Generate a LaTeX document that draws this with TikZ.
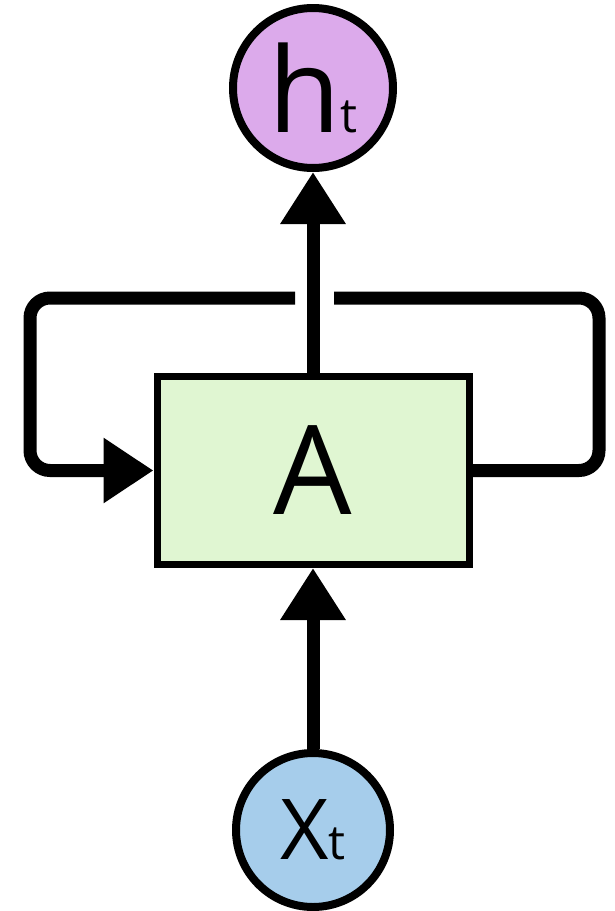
\documentclass[tikz,border=0pt]{standalone}
\usepackage{fontspec}
\setmainfont{Open Sans}
\usepackage{tikz}
\usetikzlibrary{arrows.meta}
\definecolor{hpurple}{HTML}{DCAAEB}
\definecolor{xblue}{HTML}{A6CDEB}
\definecolor{agreen}{HTML}{E0F6D2}
\newcommand{\fsz}[1]{\fontsize{#1}{#1}\selectfont}
\tikzset{
  statenode/.style={circle, draw=black, line width=8pt, inner sep=0pt, minimum size=160pt},
  cellbox/.style={rectangle, draw=black, fill=agreen, line width=7pt, inner sep=0pt,
    minimum width=312pt, minimum height=188pt},
  flow/.style={line width=13pt, -{Triangle[length=52pt,width=62pt]}},
  loopline/.style={line width=13pt, rounded corners=20pt}
}
\begin{document}
\begin{tikzpicture}[x=1pt,y=-1pt]
			\useasboundingbox (0,0) rectangle (615,911);
			\node[statenode, fill=hpurple] (ht) at (313,88) {\fsz{118}h\fsz{48}t};
			\node[cellbox] (A) at (313,470.5) {\fsz{124}A};
			\node[statenode, fill=xblue, minimum size=154pt] (xt) at (313,830) {\fsz{84}X\fsz{48}t};
			\coordinate (gapL) at (295,298);
			\coordinate (gapR) at (334,298);
			\coordinate (cornerNE) at (599,298);
			\coordinate (cornerNW) at (30,298);
			\draw[loopline] (A.east) -| (cornerNE) -- (gapR);
			\draw[loopline, -{Triangle[length=50pt,width=62pt]}] (gapL) -- (cornerNW) |- (A.west);
			\draw[flow] (A.north) -- (ht.south);
			\draw[flow] (xt.north) -- (A.south);
		\end{tikzpicture}
\end{document}
